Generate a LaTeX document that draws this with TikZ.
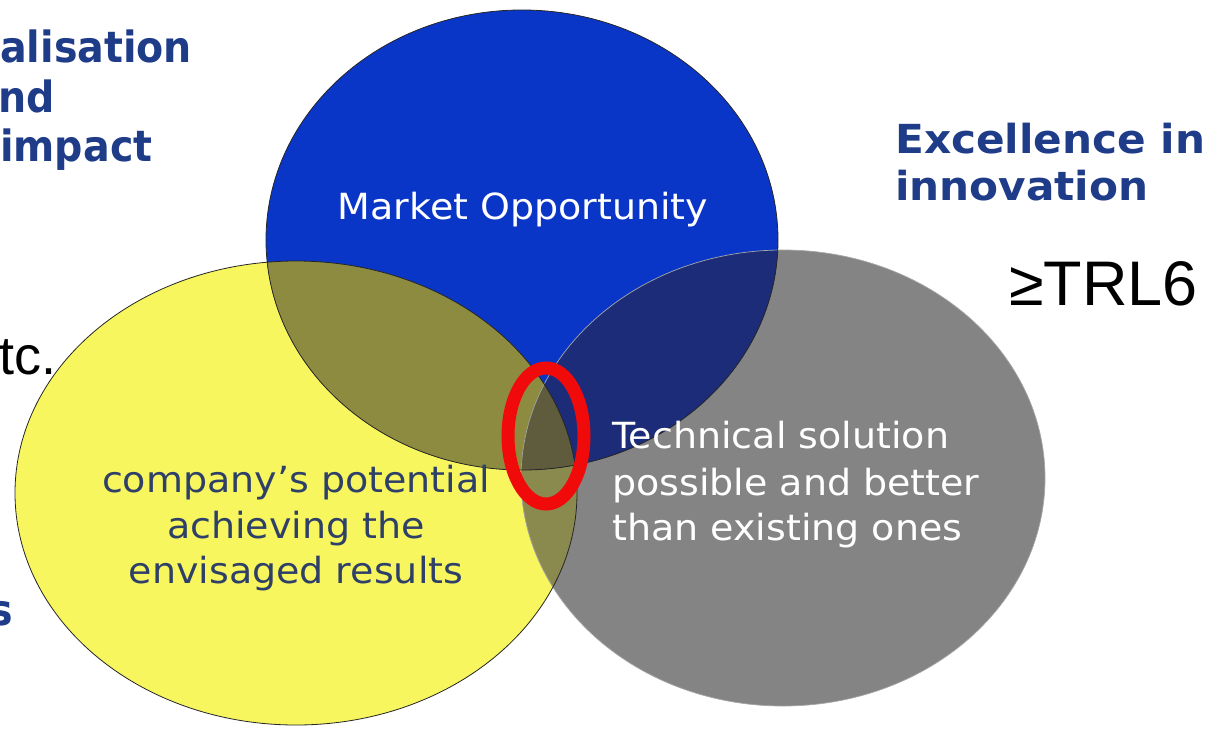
\documentclass[tikz,border=0pt]{standalone}
\usepackage{fontspec}
\setmainfont{DejaVu Sans}
\newfontfamily\arialf{Liberation Sans}
\newfontfamily\circfont[FakeStretch=1.055]{DejaVu Sans}
\newfontfamily\headR[FakeStretch=1.055]{DejaVu Sans}
\newfontfamily\headL[FakeStretch=0.92]{DejaVu Sans}
\definecolor{blu}{HTML}{0A36C8}
\definecolor{yel}{HTML}{F8F65E}
\definecolor{gry}{HTML}{848484}
\definecolor{yb}{HTML}{8C8B40}
\definecolor{bg}{HTML}{1C2C78}
\definecolor{yg}{HTML}{8B8A4E}
\definecolor{ybg}{HTML}{5E5C3C}
\definecolor{headcol}{HTML}{1F3C88}
\definecolor{yeltext}{HTML}{2E4068}
\definecolor{redring}{HTML}{F00A0A}
\tikzset{
  headl/.style={inner sep=0pt, text=headcol, font=\fontsize{43}{50}\headL\bfseries},
  headr/.style={inner sep=0pt, text=headcol, font=\fontsize{40}{46}\headR\bfseries},
  circtxt/.style={inner sep=0pt, font=\fontsize{36}{44}\circfont},
  arialtxt/.style={inner sep=0pt, text=black, font=\fontsize{63}{70}\arialf},
}
\begin{document}
\begin{tikzpicture}[x=1pt,y=-1pt]
\useasboundingbox (0,0) rectangle (1212,728);
\fill[white] (0,0) rectangle (1212,728);
\def\Y{(296,493) ellipse [x radius=281, y radius=232]}
\def\G{(783,478) ellipse [x radius=262, y radius=228]}
\def\B{(522,240) ellipse [x radius=256, y radius=230]}
% fills
\fill[yel] \Y;
\fill[gry] \G;
\begin{scope}\clip \Y; \fill[yg] \G; \end{scope}
\fill[blu] \B;
\begin{scope}\clip \B; \fill[yb] \Y; \end{scope}
\begin{scope}\clip \B; \fill[bg] \G; \end{scope}
\begin{scope}\clip \B; \clip \Y; \fill[ybg] \G; \end{scope}
% outlines
\draw[gray!70!white, line width=0.7pt] \G;
\draw[black!85, line width=0.8pt] \Y;
\draw[black!85, line width=0.8pt] \B;
% red ring
\draw[redring, line width=13pt] (546,436) ellipse [x radius=38, y radius=68];
% headings
\node[headl, anchor=base west] (h1) at (0,62) {alisation};
\node[headl, anchor=base west] (h2) at (-2,112) {nd};
\node[headl, anchor=base west] (h3) at (0,161) {impact};
\node[headl, anchor=base east] (h4) at (13,625) {s};
\node[headr, anchor=base west] (e1) at (895,153) {Excellence in};
\node[headr, anchor=base west] (e2) at (895,200) {innovation};
% arial texts
\node[arialtxt, anchor=base west] (trl) at (1009,305) {≥TRL6};
\node[arialtxt, anchor=base west, font=\fontsize{54}{60}\arialf] (etc) at (-1,374) {tc.};
% circle texts
\node[circtxt, text=white, anchor=base] (mo) at (523,219) {Market Opportunity};
\node[circtxt, text=yeltext, anchor=base] (c1) at (296,492) {company’s potential};
\node[circtxt, text=yeltext, anchor=base] (c2) at (296,538) {achieving the};
\node[circtxt, text=yeltext, anchor=base] (c3) at (296,583) {envisaged results};
\node[circtxt, text=white, anchor=base west] (t1) at (612,448) {Technical solution};
\node[circtxt, text=white, anchor=base west] (t2) at (612,495) {possible and better};
\node[circtxt, text=white, anchor=base west] (t3) at (612,540) {than existing ones};
\end{tikzpicture}
\end{document}
